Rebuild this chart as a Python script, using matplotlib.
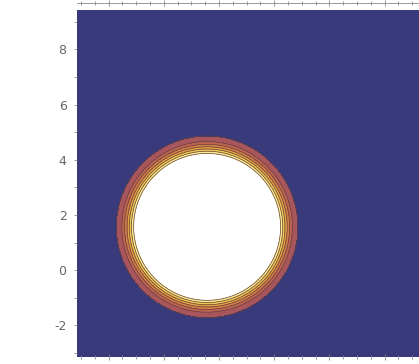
#!/usr/bin/env python3

import numpy as np
import matplotlib.pyplot as plt
from matplotlib.ticker import MultipleLocator

plt.rcParams['axes.unicode_minus'] = False

# plot window, centre of the circular feature and contour bands
xLim = [-np.pi, 3*np.pi]
yLim = [-np.pi, 3*np.pi]
center = [np.pi/2, np.pi/2]
levels = [0, 2.66, 2.74, 2.82, 2.90, 2.99, 3.09, 3.29, 20]
bandColors = ['#ffffff', '#f8ec9c', '#eccc58', '#e0a444', '#d08046',
              '#bd6550', '#a8565c', '#383a7c']
yTicks = [-2, 0, 2, 4, 6, 8]

N = 600
x = np.linspace(xLim[0], xLim[1], N)
y = np.linspace(yLim[0], yLim[1], N)
X, Y = np.meshgrid(x, y)
R = np.hypot(X - center[0], Y - center[1])

fig = plt.figure(figsize=(4.19, 3.64), dpi=100)
ax = fig.add_axes([77/419, 7/364, 347/419, 347/364])

ax.contourf(X, Y, R, levels=levels, colors=bandColors)
ax.contour(X, Y, R, levels=levels[1:-1], colors='#6a4038', linewidths=0.5)
ax.set_xlim(xLim)
ax.set_ylim(yLim)

# frame: detached gray line with ticks on top, loose ticks elsewhere
grey = '#8a8a8a'
for side in ['left', 'right', 'top', 'bottom']:
    ax.spines[side].set_color(grey)
    ax.spines[side].set_linewidth(0.6)
ax.spines['right'].set_visible(False)
ax.spines['left'].set_visible(False)
ax.spines['bottom'].set_visible(False)
ax.spines['top'].set_position(('outward', 5))

ax.xaxis.set_major_locator(MultipleLocator(2))
ax.xaxis.set_minor_locator(MultipleLocator(0.5))
ax.set_yticks(yTicks)
ax.yaxis.set_minor_locator(MultipleLocator(1))
ax.tick_params(axis='x', which='both', top=True, bottom=True,
               labeltop=False, labelbottom=False, direction='inout',
               color=grey, length=4, width=0.6)
ax.tick_params(axis='x', which='minor', length=2.5)
ax.tick_params(axis='y', which='both', left=True, direction='out',
               color=grey, length=2.5, width=0.6, pad=5,
               labelsize=9, labelcolor='#666666')

plt.savefig('out.png', dpi=100)
plt.close()
